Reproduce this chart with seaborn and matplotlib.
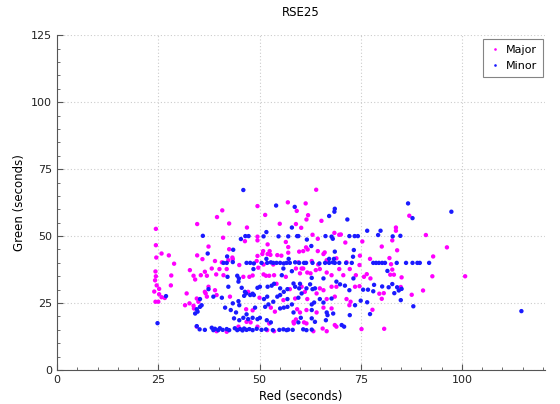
import matplotlib
matplotlib.use("Agg")
import matplotlib.pyplot as plt
from matplotlib.ticker import MultipleLocator
import seaborn as sns
import pandas as pd

# ---- data (Red seconds, Green seconds) ----
major_red = [
    # upper part
    40.8, 39.5, 42.5, 34.6, 24.4, 41.0, 46.4, 24.4, 37.4, 42.5, 25.8, 27.6, 34.6, 24.5, 35.9, 43.3,
    64.0, 57.0, 61.4, 49.5, 59.2, 51.4, 62.0, 61.6, 65.3, 55.0, 59.0, 60.3, 46.9, 68.5, 49.5, 63.1,
    64.4, 69.7, 49.5, 56.5, 52.0, 61.5, 57.1, 50.9, 52.5, 57.1, 59.8, 60.8, 61.9, 64.4, 66.1, 50.7,
    52.0, 52.7, 49.5, 54.4, 55.4, 65.8,
    87.0, 83.7, 83.7, 70.1, 91.1, 82.8, 71.2, 75.4, 80.2, 84.0, 74.8, 77.3, 82.1, 92.9,
    96.3, 100.8,
    # left edge
    28.9, 24.3, 24.4, 28.2, 24.2, 24.6, 25.2, 28.1, 24.0, 25.2, 25.8, 26.6, 24.3, 25.0,
    # right part
    75.8, 76.5, 77.4, 82.5, 82.8, 82.3, 83.2, 79.6, 80.7, 84.9, 90.4, 87.6, 80.2, 92.7, 85.1, 77.9,
    75.2, 80.8,
    # dense middle
    39.0, 40.7, 42.3, 43.4, 45.0, 49.3, 51.0, 53.4, 59.6, 60.4, 62.9, 64.5, 66.6, 69.0, 71.5, 74.7,
    32.8, 33.7, 35.5, 36.5, 37.0, 38.2, 39.3, 40.1, 41.1, 41.9, 46.0, 47.5, 48.3, 49.7, 51.0, 51.6,
    52.4, 53.6, 56.5, 59.0, 60.0, 60.8, 61.8, 62.6, 63.9, 64.9, 66.6, 67.8, 69.7, 70.7, 72.3, 73.8,
    34.1, 36.5, 37.4, 39.0, 47.2, 54.2, 57.5, 60.4, 64.9, 65.8, 67.8, 69.0, 73.6, 74.7,
    32.0, 34.5, 34.9, 36.7, 37.0, 39.4, 42.7, 50.0, 55.9, 58.8, 61.2, 61.8, 64.1, 66.6, 68.6, 71.5,
    72.5,
    31.6, 32.7, 33.7, 33.8, 46.7, 48.3, 52.8, 53.8, 59.3, 60.0, 61.6, 64.1, 65.8, 67.8, 72.2,
    46.8, 47.8, 52.4, 58.4, 59.0, 61.0, 61.6, 68.6,
    34.5, 39.4, 41.9, 44.8, 49.5, 51.9, 53.6, 58.5, 63.3, 65.6, 66.6, 69.0,
]
major_green = [
    59.6, 57.1, 54.7, 54.5, 52.7, 49.4, 48.1, 46.6, 46.1, 45.1, 43.5, 42.8, 42.8, 42.0, 41.4, 42.0,
    67.3, 62.6, 62.2, 61.2, 59.4, 57.9, 57.8, 56.2, 55.7, 54.6, 54.5, 53.1, 53.2, 51.2, 49.8, 50.5,
    49.0, 50.5, 48.4, 47.8, 46.9, 45.8, 45.9, 44.4, 44.4, 43.8, 44.2, 44.4, 45.0, 44.4, 43.9, 43.3,
    43.3, 43.0, 42.6, 42.9, 42.7, 43.3,
    57.6, 53.2, 52.0, 50.6, 50.4, 48.4, 47.6, 48.0, 46.1, 44.7, 42.7, 41.5, 41.8, 42.4,
    45.8, 35.0,
    39.7, 36.8, 35.0, 35.3, 33.5, 31.6, 30.3, 31.6, 29.3, 28.3, 27.2, 26.9, 25.5, 25.5,
    34.8, 35.8, 34.2, 39.5, 37.5, 35.6, 35.6, 28.5, 28.7, 31.0, 29.7, 28.1, 26.6, 35.0, 34.6, 22.5,
    15.3, 15.4,
    40.7, 40.2, 41.0, 41.4, 39.2, 40.7, 39.4, 39.4, 40.2, 37.9, 40.7, 39.4, 41.0, 41.7, 40.2, 39.2,
    37.3, 35.2, 35.4, 36.7, 35.2, 37.9, 35.7, 37.7, 35.4, 37.7, 34.8, 34.8, 35.3, 38.2, 35.7, 35.2,
    35.2, 35.4, 34.8, 37.9, 36.1, 37.9, 36.4, 36.1, 37.3, 37.7, 36.4, 35.4, 37.7, 35.4, 37.7, 35.4,
    33.8, 29.2, 31.1, 29.8, 29.2, 32.2, 30.2, 31.1, 30.5, 29.8, 31.1, 31.1, 31.1, 31.3,
    28.6, 26.7, 25.5, 28.6, 27.4, 28.0, 27.4, 27.0, 26.1, 26.7, 29.2, 26.5, 28.6, 26.5, 27.4, 26.5,
    25.5,
    24.2, 24.9, 24.0, 23.0, 22.7, 22.3, 23.3, 21.8, 22.7, 21.5, 22.4, 21.5, 23.3, 23.0, 24.2,
    18.0, 17.8, 17.4, 18.0, 18.9, 17.8, 17.4, 16.8,
    16.2, 14.5, 14.3, 16.2, 16.2, 14.9, 14.5, 17.4, 14.5, 15.5, 14.5, 16.2,
]

minor_red = [
    # upper part
    46.0, 36.0, 45.4, 43.5, 37.2, 42.0,
    54.1, 58.7, 68.6, 68.5, 67.2, 58.0, 51.7, 46.5, 47.3, 51.0, 54.7, 57.1, 59.3, 59.6, 66.3, 67.8,
    68.1, 61.7, 62.8, 68.6, 51.7, 57.2, 67.2, 68.4,
    86.7, 87.8, 71.7, 76.6, 79.9, 79.3, 72.2, 73.5, 74.3, 82.9, 84.8, 73.3, 73.1,
    97.4, 114.7,
    # left edge
    26.9, 24.8,
    # right part
    78.1, 78.8, 79.5, 80.3, 81.0, 83.9, 86.2, 87.8, 89.0, 89.6, 91.9, 81.6,
    75.6, 76.8, 78.3, 80.3, 81.9, 82.8, 84.0, 85.1, 84.4, 78.1, 83.3, 84.9, 75.0, 76.6, 77.3, 88.0,
    # 40-second band
    41.1, 41.9, 43.4, 46.8, 47.7, 48.6, 50.5, 51.9, 52.8, 53.4, 54.2, 55.1, 56.0, 56.7, 57.5, 58.8,
    59.8, 61.0, 61.5, 63.1, 64.8, 66.2, 67.2, 68.1, 68.6, 69.7, 71.4, 72.8,
    # dense middle
    42.1, 44.5, 44.9, 48.5, 55.5, 55.9, 58.0, 62.9, 65.8, 73.2,
    37.4, 42.3, 44.8, 45.6, 46.4, 47.7, 48.3, 49.5, 50.1, 52.0, 53.0, 53.6, 55.1, 56.0, 56.9, 58.4,
    58.8, 59.8, 60.0, 61.6, 62.5, 63.1, 63.7, 69.0, 69.9, 71.1, 72.2,
    35.3, 38.6, 40.7, 43.4, 44.8, 45.0, 46.2, 46.7, 48.6, 51.1, 51.9, 53.4, 54.4, 55.1, 56.9, 58.0,
    59.6, 60.4, 62.9, 63.5, 64.9, 65.8, 67.8, 73.6,
    34.5, 35.3, 35.7, 34.1, 34.7, 41.5, 42.9, 44.2, 46.8, 48.9, 51.4, 52.2, 55.1, 56.0, 56.9, 58.4,
    62.9, 66.6, 68.2,
    43.7, 45.0, 46.0, 47.2, 48.3, 49.5, 50.1, 51.8, 52.8, 59.6, 60.2, 62.9, 63.7, 66.4, 66.8, 72.3,
    70.3, 70.9,
    # 15-second band
    34.5, 35.2, 36.5, 38.2, 38.6, 39.0, 39.8, 40.2, 40.9, 41.9, 42.5, 43.9, 44.5, 45.2, 45.8, 46.2,
    46.8, 47.5, 48.3, 49.3, 50.5, 51.6, 53.3, 54.9, 55.9, 56.7, 57.1, 58.2, 60.8, 61.6, 62.9,
]
minor_green = [
    67.2, 50.1, 48.9, 44.9, 43.5, 42.4,
    61.4, 60.9, 60.2, 59.1, 57.5, 53.2, 51.5, 50.0, 50.0, 49.9, 49.9, 49.9, 50.0, 50.0, 50.0, 49.8,
    49.0, 48.7, 46.3, 44.2, 41.5, 41.5, 41.5, 41.5,
    62.2, 56.7, 56.2, 52.0, 52.0, 50.4, 50.0, 50.0, 50.0, 49.9, 50.1, 44.8, 42.3,
    59.1, 22.0,
    27.6, 17.5,
    40.0, 40.0, 40.0, 40.0, 40.0, 40.0, 40.0, 40.0, 40.0, 40.0, 40.0, 37.0,
    30.0, 30.0, 31.8, 31.2, 30.9, 32.1, 30.9, 30.3, 29.7, 29.4, 28.7, 26.1, 25.9, 25.3, 20.9, 23.8,
    40.0, 40.0, 40.3, 40.0, 40.0, 39.8, 40.0, 40.0, 40.2, 40.0, 40.0, 40.0, 39.8, 40.0, 40.0, 40.2,
    40.0, 40.0, 40.0, 40.0, 39.8, 40.0, 40.0, 40.2, 40.0, 40.0, 40.0, 40.0,
    34.8, 35.2, 34.2, 37.7, 35.4, 37.9, 36.9, 34.4, 34.2, 34.2,
    30.2, 31.1, 33.0, 30.7, 29.2, 28.0, 28.5, 30.7, 31.1, 31.1, 31.5, 32.2, 30.5, 29.2, 30.2, 32.3,
    31.1, 30.5, 32.2, 30.5, 32.0, 30.2, 30.5, 33.0, 32.0, 31.5, 29.8,
    26.5, 27.4, 27.0, 24.9, 25.7, 24.2, 27.7, 28.6, 28.0, 26.5, 27.4, 25.5, 27.4, 28.0, 26.5, 24.5,
    27.0, 28.6, 24.5, 25.2, 26.5, 25.2, 26.7, 24.2,
    22.7, 23.6, 24.2, 21.1, 21.8, 23.3, 22.4, 21.5, 20.8, 23.3, 23.6, 24.5, 23.0, 23.3, 23.6, 21.5,
    22.4, 21.5, 21.1,
    19.3, 18.6, 19.5, 19.0, 19.5, 19.0, 19.5, 18.6, 17.8, 17.8, 19.5, 19.3, 18.0, 18.6, 20.5, 20.5,
    16.8, 16.2,
    16.4, 15.2, 15.0, 15.8, 14.9, 15.4, 14.9, 15.6, 15.0, 15.3, 14.9, 15.6, 14.9, 15.3, 14.8, 15.5,
    15.0, 15.3, 14.9, 15.4, 15.0, 15.2, 14.9, 15.0, 15.2, 14.9, 15.1, 15.0, 15.2, 14.9, 15.1,
]

series_names = ["Major", "Minor"]
series_colors = ["#FF00FF", "#1A1AFF"]
title = "RSE25"
x_label = "Red (seconds)"
y_label = "Green (seconds)"

df = pd.DataFrame({
    "red": major_red + minor_red,
    "green": major_green + minor_green,
    "type": [series_names[0]] * len(major_red) + [series_names[1]] * len(minor_red),
})

plt.rcParams["font.family"] = ["DejaVu Sans"]
fig = plt.figure(figsize=(5.6, 4.04), dpi=100)
ax = fig.add_axes([0.102, 0.084, 0.871, 0.829])

sns.scatterplot(data=df, x="red", y="green", hue="type",
                palette=dict(zip(series_names, series_colors)),
                s=10, linewidth=0, edgecolor="none", ax=ax, legend=True)

ax.set_xlim(0, 120.5)
ax.set_ylim(0, 125)
ax.xaxis.set_major_locator(MultipleLocator(25))
ax.xaxis.set_minor_locator(MultipleLocator(5))
ax.yaxis.set_major_locator(MultipleLocator(25))
ax.yaxis.set_minor_locator(MultipleLocator(5))
ax.tick_params(which="both", direction="in", colors="#555555", labelcolor="#222222", labelsize=8)
ax.tick_params(which="major", length=4)
ax.tick_params(which="minor", length=2)
ax.grid(True, which="major", color="#cccccc", linestyle=(0, (1, 2)), linewidth=0.8)
ax.set_axisbelow(True)
for s in ["top", "right"]:
    ax.spines[s].set_visible(False)
for s in ["left", "bottom"]:
    ax.spines[s].set_color("#555555")

ax.set_title(title, fontsize=8.5, pad=14)
ax.set_xlabel(x_label, fontsize=8.5)
ax.set_ylabel(y_label, fontsize=8.5)

leg = ax.legend(loc="upper right", frameon=True, fancybox=False, fontsize=8,
                markerscale=0.6, handletextpad=0.4, handlelength=1.2, borderpad=0.5,
                labelspacing=0.6, borderaxespad=0.2, bbox_to_anchor=(1.0, 0.995))
leg.get_frame().set_edgecolor("#666666")
leg.get_frame().set_linewidth(0.8)

fig.savefig("out.png", dpi=100)
